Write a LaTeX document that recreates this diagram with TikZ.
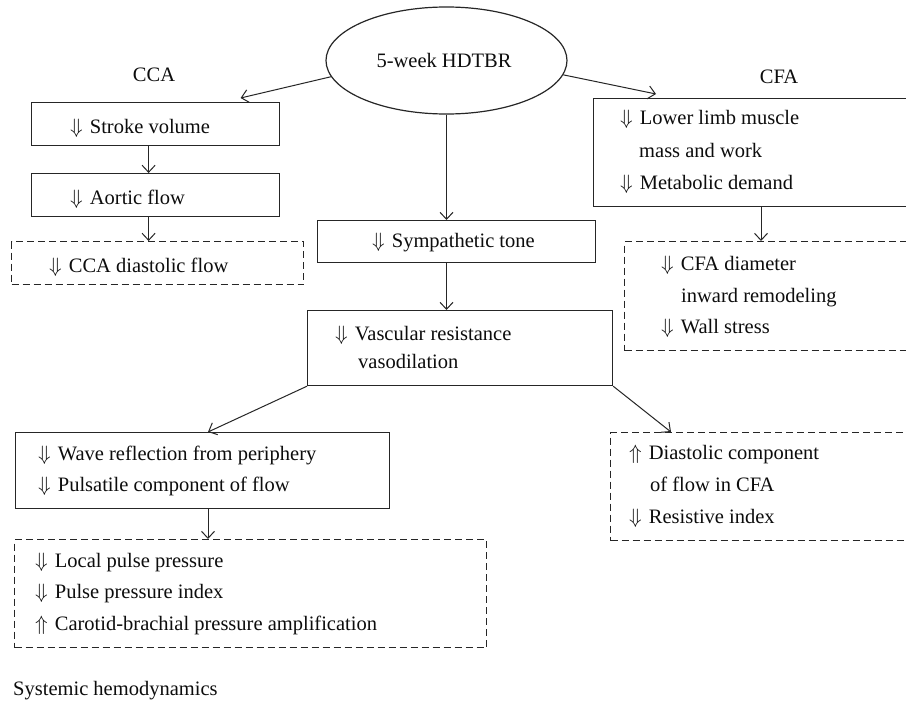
\documentclass[tikz,border=0pt]{standalone}
\usepackage{fontspec}
\setmainfont{Liberation Serif}
\usetikzlibrary{arrows.meta,shapes.geometric}
\newcommand{\dnar}{$\Downarrow$\hspace{7pt}}
\newcommand{\upar}{$\Uparrow$\hspace{7pt}}
\begin{document}
\begin{tikzpicture}[x=1pt,y=-1pt,
  box/.style={draw=black!85, line width=1.2pt, rectangle, inner sep=0pt, anchor=north west},
  dbox/.style={box, dash pattern=on 7pt off 4pt},
  txt/.style={anchor=base west, inner sep=0pt, text=black!95, font=\fontsize{20.5}{24}\selectfont},
  ctxt/.style={txt, anchor=base},
  arr/.style={-{Straight Barb[length=7pt,width=13pt]}, line width=1pt, draw=black!85},
]
\useasboundingbox (0,0) rectangle (906,704);
\fill[white] (0,0) rectangle (906,704);
\begin{scope}
\clip (0,0) rectangle (906,704);

% ellipse
\node[draw=black!85, line width=1.2pt, ellipse, minimum width=241pt, minimum height=107pt, inner sep=0pt] (top) at (446.5,60.5) {};
\node[ctxt] (toptxt) at (444,67) {5-week HDTBR};

% labels
\node[ctxt] (cca) at (154,81) {CCA};
\node[ctxt] (cfalab) at (779,83) {CFA};

% left column
\node[box, minimum width=248pt, minimum height=43pt] (stroke) at (31,102) {};
\node[txt] (stroketxt) at (70,133) {\dnar Stroke volume};
\node[box, minimum width=248pt, minimum height=43pt] (aortic) at (31,173) {};
\node[txt] (aortictxt) at (70,204) {\dnar Aortic flow};
\node[dbox, minimum width=292pt, minimum height=43pt] (ccad) at (11,241) {};
\node[txt] (ccadtxt) at (49,272) {\dnar CCA diastolic flow};

% centre column
\node[box, minimum width=278pt, minimum height=42pt] (symp) at (317,220) {};
\node[txt] (symptxt) at (372,247) {\dnar Sympathetic tone};
\node[box, minimum width=305pt, minimum height=75pt] (vasc) at (307,310) {};
\node[txt] (vasctxt1) at (335,340) {\dnar Vascular resistance};
\node[txt] (vasctxt2) at (358,368) {vasodilation};

% right column
\node[box, minimum width=400pt, minimum height=108pt] (cfa) at (593,98) {};
\node[txt] (cfat1) at (620,124) {\dnar Lower limb muscle};
\node[txt] (cfat2) at (639,157) {mass and work};
\node[txt] (cfat3) at (620,189) {\dnar Metabolic demand};
\node[dbox, minimum width=400pt, minimum height=109pt] (cfad) at (624,241) {};
\node[txt] (cfadt1) at (661,270) {\dnar CFA diameter};
\node[txt] (cfadt2) at (681,302) {inward remodeling};
\node[txt] (cfadt3) at (661,333) {\dnar Wall stress};

% lower left
\node[box, minimum width=374pt, minimum height=76pt] (wave) at (15,432) {};
\node[txt] (wavet1) at (38,460) {\dnar Wave reflection from periphery};
\node[txt] (wavet2) at (38,491) {\dnar Pulsatile component of flow};
\node[dbox, minimum width=472pt, minimum height=108pt] (local) at (14,539) {};
\node[txt] (localt1) at (35,567) {\dnar Local pulse pressure};
\node[txt] (localt2) at (35,598) {\dnar Pulse pressure index};
\node[txt] (localt3) at (35,630) {\upar Carotid-brachial pressure amplification};

% lower right
\node[dbox, minimum width=400pt, minimum height=108pt] (diast) at (610,432) {};
\node[txt] (diastt1) at (629,459) {\upar Diastolic component};
\node[txt] (diastt2) at (650,491) {of flow in CFA};
\node[txt] (diastt3) at (629,523) {\dnar Resistive index};

\node[txt] (sys) at (13,695) {Systemic hemodynamics};

% connectors
\draw[arr] (top.188.5) -- ([xshift=85pt,yshift=4pt]stroke.north);
\draw[arr] (top.-7) -- ([xshift=63pt,yshift=4pt]cfa.north west);
\draw[arr] ([xshift=-7pt]stroke.south) -- ([xshift=-7pt]aortic.north);
\draw[arr] ([xshift=-7pt]aortic.south) -- ([xshift=-9pt]ccad.north);
\draw[arr] (top.south) -- (top.south |- symp.north);
\draw[arr] (top.south |- symp.south) -- (top.south |- vasc.north);
\draw[arr] (vasc.south west) -- ([xshift=193pt]wave.north west);
\draw[arr] (vasc.south east) -- ([xshift=61pt]diast.north west);
\draw[arr] ([xshift=193pt]wave.south west) -- ([xshift=194pt]local.north west);
\draw[arr] ([xshift=168pt]cfa.south west) -- ([xshift=137pt]cfad.north west);
\end{scope}
\end{tikzpicture}
\end{document}
